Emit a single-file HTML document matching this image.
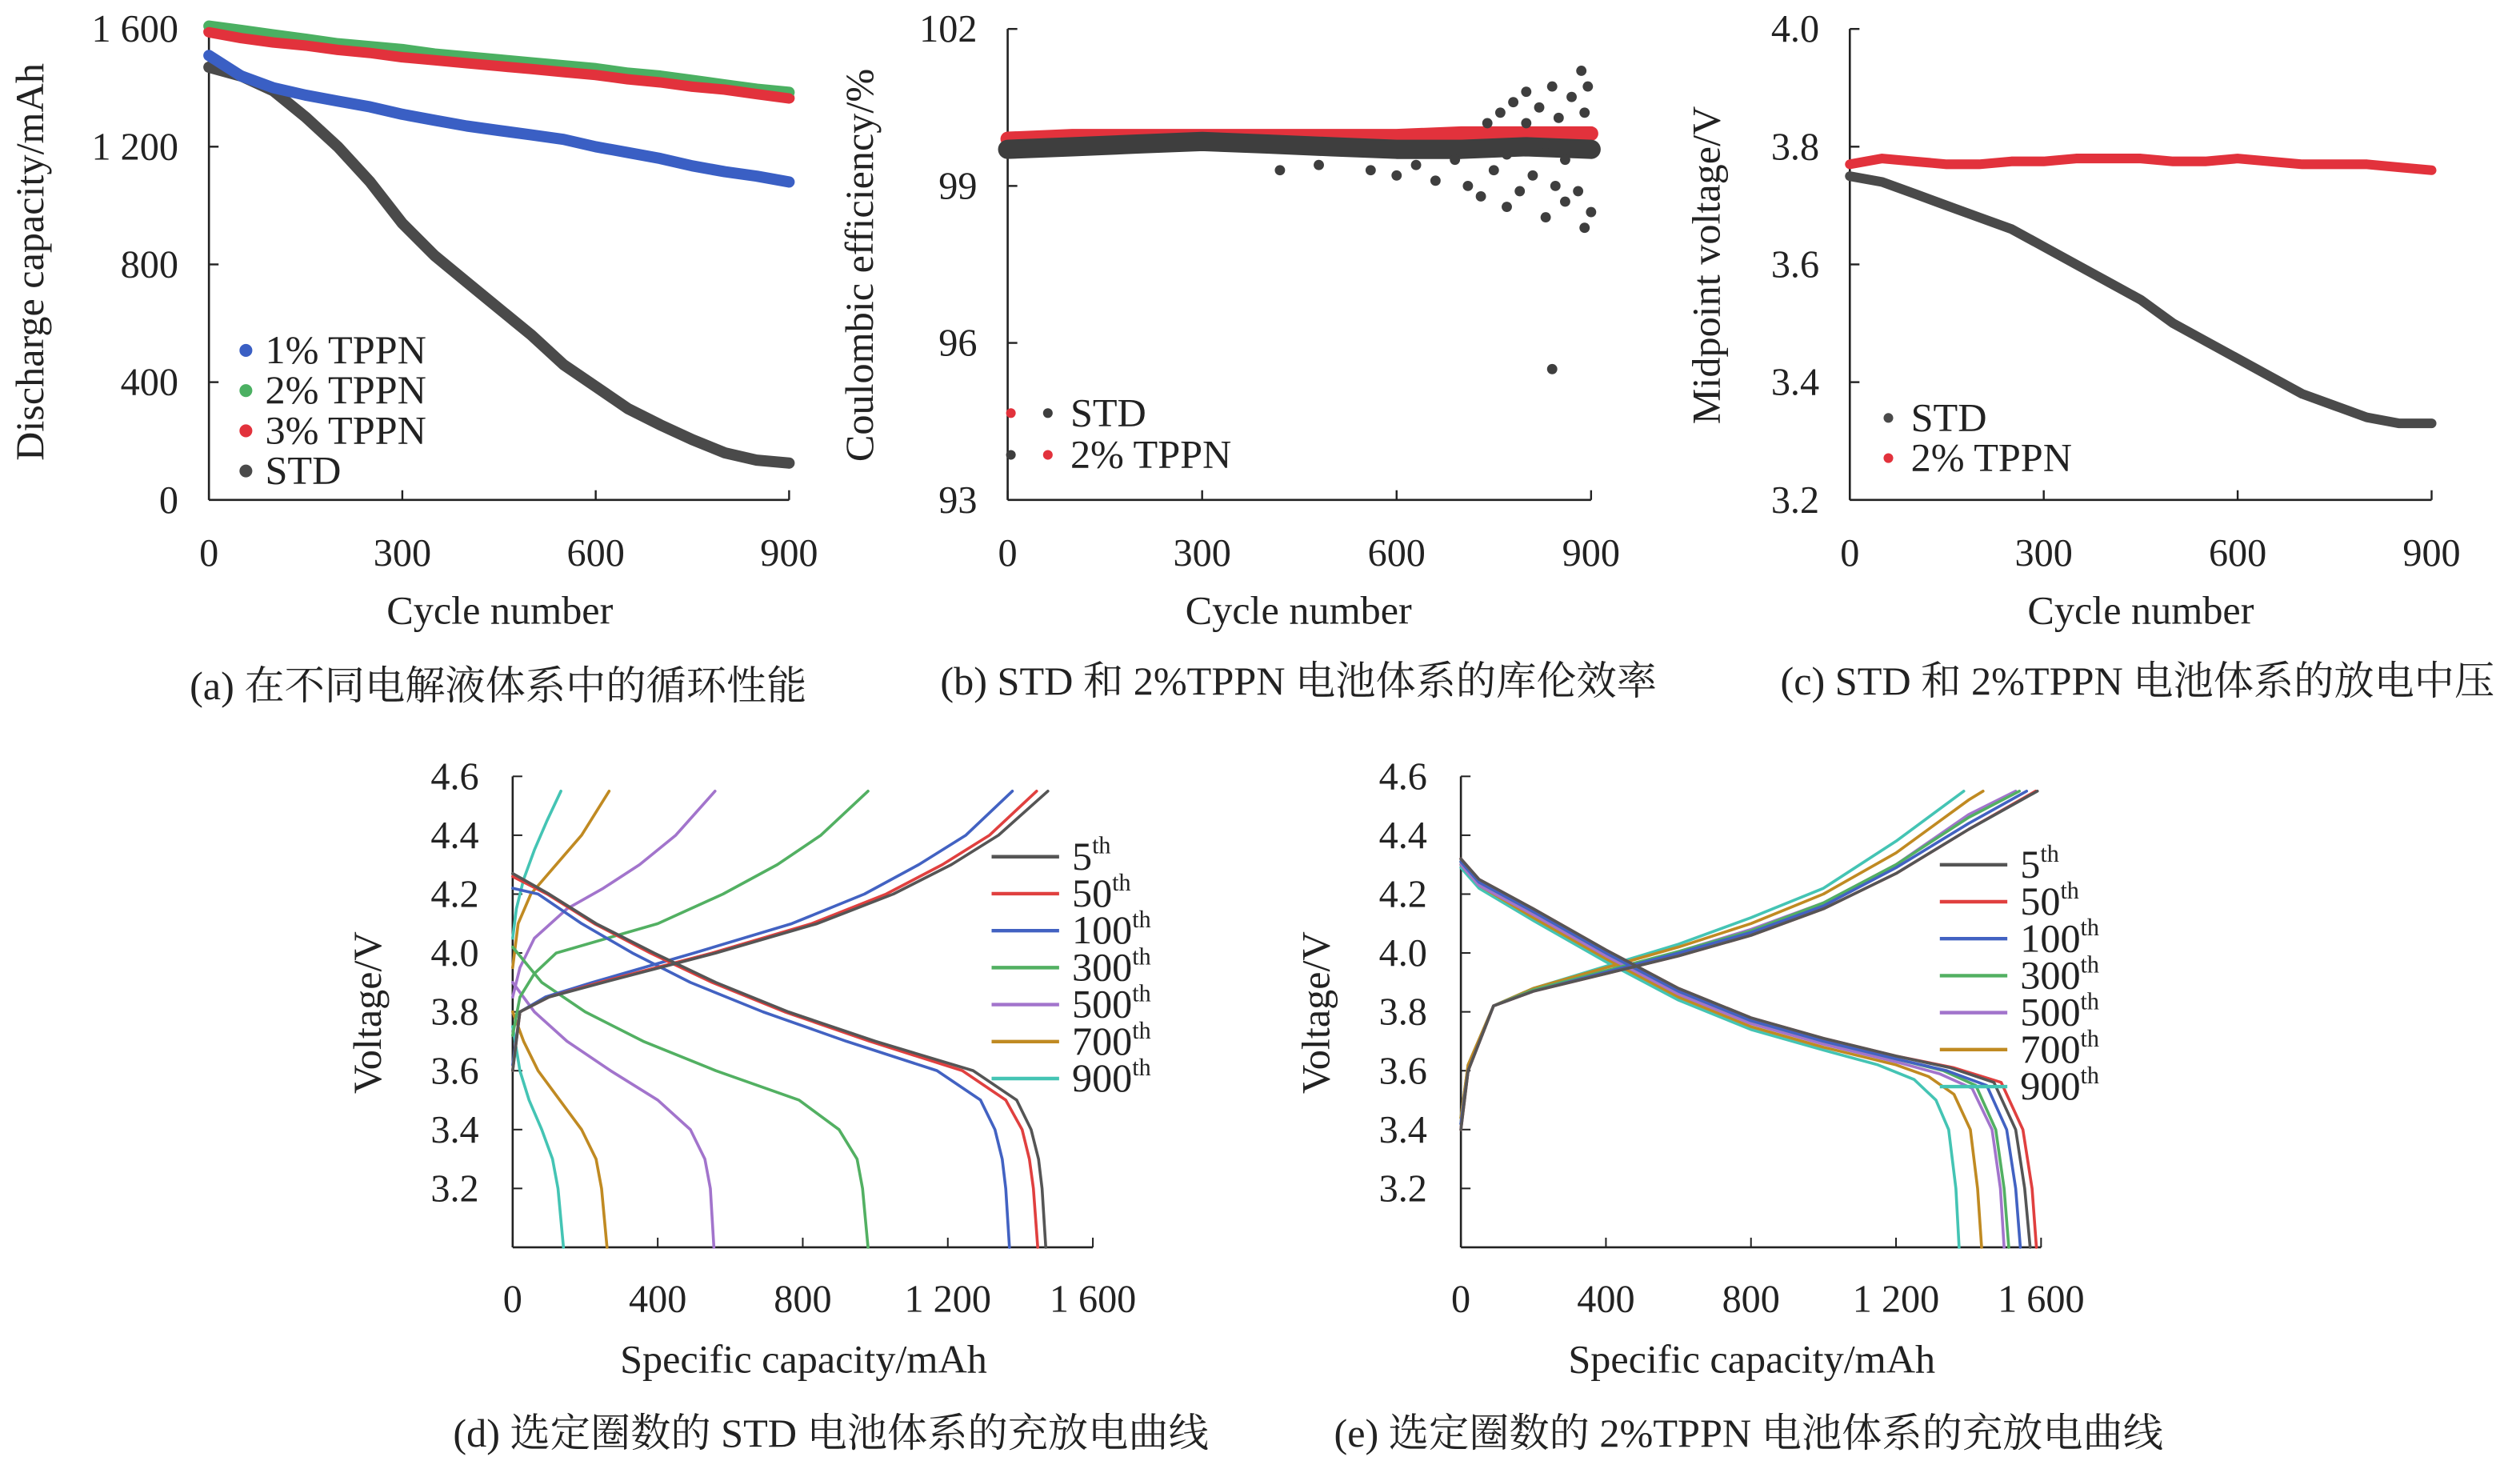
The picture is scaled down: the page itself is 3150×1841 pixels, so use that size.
<!DOCTYPE html>
<html><head><meta charset="utf-8"><style>
html,body{margin:0;padding:0;background:#fff;}
svg{display:block;}
text{font-family:"Liberation Serif","Noto Serif CJK SC",serif;fill:#222;}
</style></head><body>
<svg id="s" width="3150" height="1841" viewBox="0 0 1568 916.4" xmlns="http://www.w3.org/2000/svg"></svg>
<script>
// ---------- DATA ----------
const cyclesA = [0,50,100,150,200,250,300,350,400,450,500,550,600,650,700,750,800,850,900];
const tppn1 = [1510,1440,1400,1375,1355,1335,1310,1290,1270,1255,1240,1225,1200,1180,1160,1135,1115,1100,1080];
const tppn2 = [1610,1595,1580,1565,1550,1540,1530,1515,1505,1495,1485,1475,1465,1450,1440,1425,1410,1395,1385];
const tppn3 = [1590,1570,1555,1545,1530,1520,1505,1495,1485,1475,1465,1455,1445,1430,1420,1405,1395,1380,1365];
const stdA  = [1470,1440,1390,1300,1200,1080,940,830,740,650,560,460,385,310,255,205,160,135,125];

const cyclesB = [0,100,200,300,400,500,600,700,800,900];
const ceStd  = [99.7,99.75,99.8,99.85,99.8,99.75,99.7,99.7,99.75,99.7];
const ceTppn = [99.9,99.95,99.95,99.95,99.95,99.95,99.95,100.0,100.0,100.0];
const ceOutCyc = [420,480,560,600,630,660,690,710,730,750,760,770,780,790,800,810,820,830,840,845,850,860,870,880,885,890,895,900,740,770,800,830,860,890,840];
const ceOutVal = [99.3,99.4,99.3,99.2,99.4,99.1,99.5,99.0,98.8,99.3,100.4,98.6,100.6,98.9,100.8,99.2,100.5,98.4,100.9,99.0,100.3,98.7,100.7,98.9,101.2,98.2,100.9,98.5,100.2,99.6,100.2,99.8,99.5,100.4,95.5];

const cyclesC = [0,50,100,150,200,250,300,350,400,450,500,550,600,650,700,750,800,850,900];
const mvStd  = [3.75,3.74,3.72,3.70,3.68,3.66,3.63,3.60,3.57,3.54,3.50,3.47,3.44,3.41,3.38,3.36,3.34,3.33,3.33];
const mvTppn = [3.77,3.78,3.775,3.77,3.77,3.775,3.775,3.78,3.78,3.78,3.775,3.775,3.78,3.775,3.77,3.77,3.77,3.765,3.76];

const cycleLabels = ["5th","50th","100th","300th","500th","700th","900th"];
const curveColors = ["#555555","#e0403f","#4262c2","#52b062","#a274cc","#c08a22","#44c4b4"];
const dDis = [
 [[0,4.27],[100,4.2],[230,4.1],[390,4.0],[560,3.9],[760,3.8],[1000,3.7],[1270,3.6],[1390,3.5],[1430,3.4],[1450,3.3],[1460,3.2],[1470,3.0]],
 [[0,4.26],[95,4.2],[225,4.1],[380,4.0],[550,3.9],[750,3.8],[985,3.7],[1240,3.6],[1360,3.5],[1405,3.4],[1425,3.3],[1436,3.2],[1448,3.0]],
 [[0,4.22],[70,4.2],[190,4.1],[330,4.0],[490,3.9],[690,3.8],[920,3.7],[1170,3.6],[1290,3.5],[1330,3.4],[1350,3.3],[1360,3.2],[1370,3.0]],
 [[0,4.02],[80,3.9],[200,3.8],[360,3.7],[560,3.6],[790,3.5],[900,3.4],[950,3.3],[965,3.2],[980,3.0]],
 [[0,3.9],[60,3.8],[150,3.7],[270,3.6],[400,3.5],[490,3.4],[530,3.3],[545,3.2],[555,3.0]],
 [[0,3.8],[30,3.7],[70,3.6],[130,3.5],[190,3.4],[230,3.3],[245,3.2],[260,3.0]],
 [[0,3.75],[20,3.6],[45,3.5],[80,3.4],[110,3.3],[125,3.2],[140,3.0]]
];
const dChg = [
 [[0,3.6],[20,3.8],[100,3.85],[250,3.9],[560,4.0],[840,4.1],[1050,4.2],[1210,4.3],[1340,4.4],[1476,4.55]],
 [[0,3.6],[20,3.8],[100,3.85],[240,3.9],[550,4.0],[825,4.1],[1030,4.2],[1185,4.3],[1315,4.4],[1445,4.55]],
 [[0,3.62],[20,3.8],[90,3.85],[220,3.9],[500,4.0],[770,4.1],[970,4.2],[1120,4.3],[1250,4.4],[1378,4.55]],
 [[0,3.72],[20,3.85],[60,3.93],[120,4.0],[400,4.1],[580,4.2],[730,4.3],[850,4.4],[980,4.55]],
 [[0,3.85],[20,3.95],[60,4.05],[150,4.15],[250,4.22],[350,4.3],[450,4.4],[558,4.55]],
 [[0,3.95],[15,4.1],[50,4.2],[120,4.3],[190,4.4],[266,4.55]],
 [[0,4.05],[10,4.15],[30,4.25],[60,4.35],[95,4.45],[133,4.55]]
];
const eDis = [
 [[0,4.32],[50,4.25],[200,4.15],[400,4.01],[600,3.88],[800,3.78],[1000,3.71],[1200,3.65],[1350,3.61],[1470,3.56],[1530,3.4],[1555,3.2],[1570,3.0]],
 [[0,4.32],[50,4.25],[200,4.15],[400,4.01],[600,3.88],[800,3.78],[1000,3.71],[1200,3.65],[1360,3.61],[1490,3.56],[1550,3.4],[1575,3.2],[1587,3.0]],
 [[0,4.31],[50,4.24],[200,4.14],[400,4.0],[600,3.87],[800,3.77],[1000,3.7],[1200,3.64],[1340,3.6],[1450,3.55],[1505,3.4],[1530,3.2],[1543,3.0]],
 [[0,4.31],[50,4.24],[200,4.14],[400,4.0],[600,3.87],[800,3.77],[1000,3.7],[1200,3.64],[1330,3.6],[1420,3.55],[1475,3.4],[1498,3.2],[1511,3.0]],
 [[0,4.3],[50,4.23],[200,4.13],[400,3.99],[600,3.86],[800,3.76],[1000,3.69],[1200,3.63],[1320,3.59],[1410,3.54],[1465,3.4],[1488,3.2],[1498,3.0]],
 [[0,4.3],[50,4.23],[200,4.12],[400,3.98],[600,3.85],[800,3.75],[1000,3.68],[1200,3.62],[1290,3.58],[1360,3.52],[1405,3.4],[1425,3.2],[1436,3.0]],
 [[0,4.29],[50,4.22],[200,4.11],[400,3.97],[600,3.84],[800,3.74],[1000,3.67],[1150,3.62],[1250,3.57],[1310,3.5],[1345,3.4],[1365,3.2],[1374,3.0]]
];
const eChg = [
 [[0,3.4],[20,3.6],[90,3.82],[200,3.87],[400,3.93],[600,3.99],[800,4.06],[1000,4.15],[1200,4.27],[1400,4.42],[1590,4.55]],
 [[0,3.4],[20,3.6],[90,3.82],[200,3.87],[400,3.93],[600,3.99],[800,4.06],[1000,4.15],[1200,4.27],[1400,4.42],[1585,4.55]],
 [[0,3.42],[20,3.6],[90,3.82],[200,3.87],[400,3.935],[600,4.0],[800,4.07],[1000,4.16],[1200,4.29],[1400,4.44],[1560,4.55]],
 [[0,3.42],[20,3.6],[90,3.82],[200,3.875],[400,3.94],[600,4.005],[800,4.075],[1000,4.17],[1200,4.3],[1400,4.46],[1540,4.55]],
 [[0,3.42],[20,3.6],[90,3.82],[200,3.875],[400,3.94],[600,4.005],[800,4.08],[1000,4.17],[1200,4.3],[1400,4.47],[1530,4.55]],
 [[0,3.44],[20,3.62],[90,3.82],[200,3.88],[400,3.95],[600,4.02],[800,4.1],[1000,4.2],[1200,4.34],[1400,4.52],[1440,4.55]],
 [[0,3.44],[20,3.62],[90,3.82],[200,3.88],[400,3.955],[600,4.03],[800,4.12],[1000,4.22],[1200,4.38],[1387,4.55]]
];

// ---------- DRAW ----------
const NS="http://www.w3.org/2000/svg";
const svg=document.getElementById('s');
const TK=24, TL=25;
function el(tag,attrs,parent){const e=document.createElementNS(NS,tag);for(const k in attrs)e.setAttribute(k,attrs[k]);(parent||svg).appendChild(e);return e;}
function txt(str,x,y,size,anchor,parent,extra){const t=el('text',Object.assign({x:x,y:y,'font-size':size,'text-anchor':anchor||'middle'},extra||{}),parent);t.textContent=str;return t;}
function lin(d0,d1,r0,r1){return v=>r0+(v-d0)/(d1-d0)*(r1-r0);}

function axes(g,x0,x1,y0,y1,xt,yt,xs,ys,xfmt,yfmt){
  el('line',{x1:x0,y1:y1,x2:x0,y2:y0,stroke:'#222','stroke-width':1.3},g);
  el('line',{x1:x0,y1:y1,x2:x1,y2:y1,stroke:'#222','stroke-width':1.3},g);
  xt.forEach(v=>{const x=xs(v);el('line',{x1:x,y1:y1,x2:x,y2:y1-6,stroke:'#222','stroke-width':1.2},g);
    const t=txt(xfmt(v),x,y1+41,TK,'middle',g);});
  yt.forEach(v=>{const y=ys(v);el('line',{x1:x0,y1:y,x2:x0+6,y2:y,stroke:'#222','stroke-width':1.2},g);
    const t=txt(yfmt(v),x0-19,y+8,TK,'end',g);});
}
function poly(g,pts,color,w,name){const p=el('polyline',{points:pts.map(p=>p[0].toFixed(1)+','+p[1].toFixed(1)).join(' '),fill:'none',stroke:color,'stroke-width':w,'stroke-linejoin':'round','stroke-linecap':'round'},g);
  return p;}
function group(name){const g=el('g',{});return g;}
const sp=v=>{const s=String(v);return s.length>3?s.slice(0,s.length-3)+' '+s.slice(-3):s;};

// Panel a
(function(){
 const g=group('panel-a');
 const xs=lin(0,900,130,491), ys=lin(0,1600,311,18);
 axes(g,130,491,18,311,[0,300,600,900],[0,400,800,1200,1600],xs,ys,String,sp);
 const ser=[[stdA,'#4a4a4a','std-series'],[tppn1,'#3a5fc4','tppn1-series'],[tppn3,'#e2323c','tppn3-series'],[tppn2,'#4bb062','tppn2-series']];
 ser.forEach(s=>poly(g,cyclesA.map((c,i)=>[xs(c),ys(s[0][i])]),s[1],7,s[2]));
 poly(g,cyclesA.map((c,i)=>[xs(c),ys(tppn3[i])]),'#e2323c',6,'tppn3-series-top');
 const leg=[['1% TPPN','#3a5fc4'],['2% TPPN','#4bb062'],['3% TPPN','#e2323c'],['STD','#4a4a4a']];
 leg.forEach((l,i)=>{const y=218+i*25;const c=el('circle',{cx:153,cy:y,r:4,fill:l[1]},g);
   const t=txt(l[0],165,y+8,TL,'start',g);});
 let t=txt('Cycle number',311,388,TL,'middle',g);
 t=txt('Discharge capacity/mAh',0,0,TL,'middle',g,{transform:'translate(27,163) rotate(-90)'});
 t=txt('(a) 在不同电解液体系中的循环性能',310,435,TL,'middle',g);
})();

// Panel b
(function(){
 const g=group('panel-b');
 const xs=lin(0,900,627,990), ys=lin(93,102,311,18);
 axes(g,627,990,18,311,[0,300,600,900],[93,96,99,102],xs,ys,String,String);
 poly(g,cyclesB.map((c,i)=>[xs(c),ys(ceTppn[i])]),'#e2323c',9,'tppn-ce-band');
 poly(g,cyclesB.map((c,i)=>[xs(c),ys(ceStd[i])]),'#3e3e3e',12,'std-ce-band');
 ceOutCyc.forEach((c,i)=>{const d=el('circle',{cx:xs(c),cy:ys(ceOutVal[i]),r:3.2,fill:'#3e3e3e'},g);});
 [['STD','#3e3e3e','#e2323c'],['2% TPPN','#e2323c','#3e3e3e']].forEach((l,i)=>{const y=257+i*26;
   el('circle',{cx:652,cy:y,r:3,fill:l[1]},g);el('circle',{cx:629,cy:y,r:3,fill:l[2]},g);
   const t=txt(l[0],666,y+8,TL,'start',g);});
 let t=txt('Cycle number',808,388,TL,'middle',g);
 t=txt('Coulombic efficiency/%',0,0,TL,'middle',g,{transform:'translate(543,165) rotate(-90)'});
 t=txt('(b) STD 和 2%TPPN 电池体系的库伦效率',808,432,TL,'middle',g);
})();

// Panel c
(function(){
 const g=group('panel-c');
 const xs=lin(0,900,1151,1513), ys=lin(3.2,4.0,311,18);
 axes(g,1151,1513,18,311,[0,300,600,900],[3.2,3.4,3.6,3.8,4.0],xs,ys,String,v=>v.toFixed(1));
 poly(g,cyclesC.map((c,i)=>[xs(c),ys(mvStd[i])]),'#4a4a4a',6,'std-midpoint-series');
 poly(g,cyclesC.map((c,i)=>[xs(c),ys(mvTppn[i])]),'#e2323c',6,'tppn-midpoint-series');
 [['STD','#4a4a4a'],['2% TPPN','#e2323c']].forEach((l,i)=>{const y=260+i*25;
   el('circle',{cx:1175,cy:y,r:3,fill:l[1]},g);
   const t=txt(l[0],1189,y+8,TL,'start',g);});
 let t=txt('Cycle number',1332,388,TL,'middle',g);
 t=txt('Midpoint voltage/V',0,0,TL,'middle',g,{transform:'translate(1070,165) rotate(-90)'});
 t=txt('(c) STD 和 2%TPPN 电池体系的放电中压',1330,432,TL,'middle',g);
})();

// Panels d, e
function curvePanel(name,x0,dis,chg,legX,legY,titleX,cap){
 const g=group(name);
 const x1=x0+361;
 const xs=lin(0,1600,x0,x1), ys=lin(3.0,4.6,776,483);
 el('line',{x1:x0,y1:483,x2:x0,y2:776,stroke:'#222','stroke-width':1.3},g);
 el('line',{x1:x0,y1:776,x2:x1,y2:776,stroke:'#222','stroke-width':1.3},g);
 [0,400,800,1200,1600].forEach(v=>{const x=xs(v);el('line',{x1:x,y1:776,x2:x,y2:770,stroke:'#222'},g);
   const t=txt(sp(v),x,816,TK,'middle',g);});
 [3.2,3.4,3.6,3.8,4.0,4.2,4.4,4.6].forEach(v=>{const y=ys(v);el('line',{x1:x0,y1:y,x2:x0+6,y2:y,stroke:'#222'},g);
   const t=txt(v.toFixed(1),x0-21,y+8,TK,'end',g);});
 for(let i=dis.length-1;i>=0;i--){
   poly(g,dis[i].map(p=>[xs(p[0]),ys(p[1])]),curveColors[i],1.8,'discharge-curve-'+cycleLabels[i]);
   poly(g,chg[i].map(p=>[xs(p[0]),ys(p[1])]),curveColors[i],1.8,'charge-curve-'+cycleLabels[i]);
 }
 cycleLabels.forEach((l,i)=>{const y=legY+i*23;
   const ln=el('line',{x1:legX,y1:y,x2:legX+42,y2:y,stroke:curveColors[i],'stroke-width':2.2},g);
   const t=el('text',{x:legX+50,y:y+8,'font-size':TL,'text-anchor':'start'},g);
   const n=l.replace('th','');t.textContent=n;const ts=el('tspan',{'font-size':15,dy:-10},t);ts.textContent='th';
   });
 let t=txt('Specific capacity/mAh',x0+181,854,TL,'middle',g);
 t=txt('Voltage/V',0,0,TL,'middle',g,{transform:'translate('+(x0-82)+',630) rotate(-90)'});
 t=txt(cap,titleX,900,TL,'middle',g);
}
curvePanel('panel-d',319,dDis,dChg,617,533,517,'(d) 选定圈数的 STD 电池体系的充放电曲线');
curvePanel('panel-e',909,eDis,eChg,1207,538,1088,'(e) 选定圈数的 2%TPPN 电池体系的充放电曲线');
</script>
</body></html>
